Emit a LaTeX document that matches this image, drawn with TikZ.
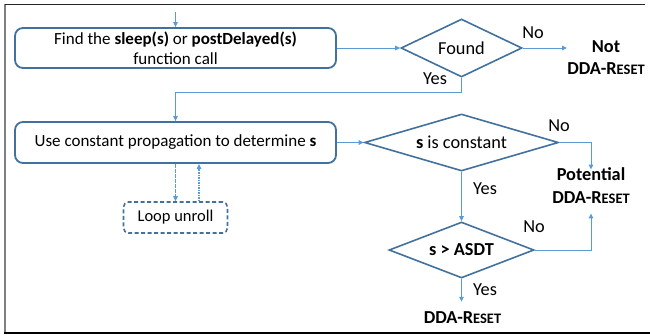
\documentclass[tikz,border=0pt]{standalone}
\usepackage{fontspec}
\setmainfont{Carlito}
\usetikzlibrary{shapes.geometric,arrows.meta}
\definecolor{boxblue}{HTML}{41719C}
\definecolor{linkblue}{HTML}{5B9BD5}
% bold "DDA-Reset" with small-cap tail
\newcommand{\ddaReset}{\textbf{DDA-R{\fontsize{14.5}{14.5}\selectfont ESET}}}
\begin{document}
\begin{tikzpicture}[x=1pt,y=-1pt,
  font=\fontsize{18.3}{22}\selectfont,
  procbox/.style={draw=boxblue, line width=1.8pt, rounded corners=8pt,
    minimum width=321pt, align=center, inner sep=0pt, font=\fontsize{17}{20}\selectfont},
  decision/.style={diamond, draw=boxblue, line width=1.6pt, inner sep=0pt},
  conn/.style={draw=linkblue, line width=1pt, -{Triangle[length=5pt,width=4.5pt]}},
  dotconn/.style={conn, line width=1.1pt, dash pattern=on 1.6pt off 0.9pt},
  lbl/.style={inner sep=0pt},
  result/.style={inner sep=0pt, align=center, font=\fontsize{18.3}{22.5}\selectfont}]
\useasboundingbox (0,0) rectangle (650,335);

% frame
\draw[gray, line width=2pt] (5,4) -- (5,334);
\draw[black!85, line width=1pt] (5,4) -- (645,4);
\draw[black, line width=1.5pt] (4,333) -- (650,333);

% process boxes
\node[procbox, minimum height=40pt] (find) at (175.5,48)
  {Find the \textbf{sleep(s)} or \textbf{postDelayed(s)}\\function call};
\node[procbox, minimum height=41pt] (prop) at (175.5,142.5)
  {Use constant propagation to determine \textbf{s}};
\node[draw=boxblue, line width=1.6pt, dash pattern=on 4pt off 2.5pt,
  rounded corners=5pt, minimum width=104pt, minimum height=31pt, inner sep=0pt,
  font=\fontsize{16.5}{20}\selectfont] (loop) at (175.5,217.5) {Loop unroll};

% decisions
\node[decision, minimum width=121pt, minimum height=58pt, label=center:Found]
  (found) at (461.5,48) {};
\node[decision, minimum width=194pt, minimum height=57pt,
  label=center:{\textbf{s} is constant}] (isconst) at (461.5,142.5) {};
\node[decision, minimum width=145pt, minimum height=56pt,
  label=center:{\textbf{s > ASDT}}] (asdt) at (461.5,250) {};

% outcomes
\node[result] (notreset) at (606,57.5) {\textbf{Not}\\\ddaReset};
\node[result] (potential) at (591,185.5) {\textbf{Potential}\\\ddaReset};
\node[result] (reset) at (462.5,318) {\ddaReset};

% branch labels
\node[lbl] (no1) at (533,33) {No};
\node[lbl] (yes1) at (435,79) {Yes};
\node[lbl] (no2) at (559,126) {No};
\node[lbl] (yes2) at (485,189) {Yes};
\node[lbl] (no3) at (534,227) {No};
\node[lbl] (yes3) at (485,290) {Yes};

% connectors
\coordinate (start) at (175.5,12);
\draw[conn] (start) -- (find.north);
\draw[conn] (find.east) -- (found.west);
\draw[conn] (found.east) -- (found.east -| notreset.west);
\draw[conn] (found.south) -- ++(0,14.5) -| (prop.north);
\draw[conn] (prop.east) -- (isconst.west);
\draw[conn] (isconst.east) -| ([yshift=-2pt]potential.north);
\draw[conn] (isconst.south) -- (asdt.north);
\draw[conn] (asdt.east) -| ([yshift=-10pt]potential.south);
\draw[conn] (asdt.south) -- ([yshift=10pt]asdt.south |- reset.north);
\draw[dotconn] (prop.south) -- (loop.north);
\draw[dotconn] ([xshift=23.5pt]loop.north) -- ([xshift=23.5pt]loop.north |- prop.south);
\end{tikzpicture}
\end{document}
